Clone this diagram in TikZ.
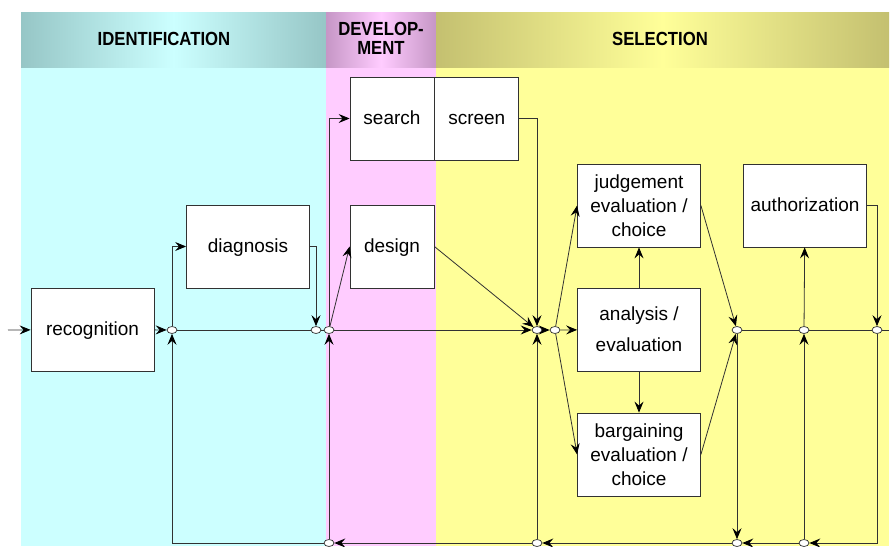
\documentclass[tikz,border=0pt]{standalone}
\usepackage{fontspec}
\setmainfont{Liberation Sans}
\newfontfamily\hdrfont[FakeStretch=0.88]{Liberation Sans}
\usetikzlibrary{arrows.meta,positioning,shapes.geometric}

\definecolor{idbg}{RGB}{204,255,255}
\definecolor{devbg}{RGB}{255,204,255}
\definecolor{selbg}{RGB}{255,255,153}
\definecolor{idhd}{RGB}{150,198,198}
\definecolor{devhd}{RGB}{198,150,198}
\definecolor{selhd}{RGB}{196,192,112}
\definecolor{ln}{RGB}{50,50,50}

\begin{document}
\begin{tikzpicture}[x=1pt, y=-1pt, line width=0.8pt,
	every node/.style={font=\fontsize{19}{24}\selectfont},
	b/.style={draw=ln, fill=white, minimum width=123pt, minimum height=83pt, align=center, inner sep=0pt},
	sb/.style={b, text height=15pt, text depth=4pt},
	nb/.style={sb, minimum width=84pt},
	j/.style={draw=ln, fill=white, ellipse, minimum width=10pt, minimum height=7pt, inner sep=0pt, line width=0.7pt},
	l/.style={draw=ln},
	a/.style={draw=ln, -{Stealth[length=11pt,width=9pt,inset=4pt,color=black]}},
	h/.style={font=\hdrfont\bfseries\fontsize{19}{19}\selectfont, align=center}]
	\useasboundingbox (0,0) rectangle (891,546);
	% phases
	\fill[idbg] (21,67) rectangle (326,546);
	\fill[devbg] (326,67) rectangle (436,546);
	\fill[selbg] (436,67) rectangle (889,546);
	\shade[left color=idhd, right color=idhd, middle color=idbg] (21,12) rectangle (326,67);
	\shade[left color=devhd, right color=devhd, middle color=devbg] (326,12) rectangle (436,67);
	\shade[left color=selhd, right color=selhd, middle color=selbg] (436,12) rectangle (889,67);
	\node[h] (idt) at (164,39) {IDENTIFICATION};
	\node[h] (dvt) at (381,38) {DEVELOP-\\MENT};
	\node[h] (slt) at (660,39) {SELECTION};
	% routines
	\node[sb] (rec) at (92.5,329.5) {recognition};
	\node[sb] (diag) at (248,246.5) {diagnosis};
	\node[nb] (srch) at (392,118.5) {search};
	\node[nb, right=0pt of srch] (scrn) {screen};
	\node[nb] (dsgn) at (392,246.5) {design};
	\node[b] (judg) at (639,205.5) {judgement\\evaluation /\\choice};
	\node[b] (anly) at (639,329.5) {analysis /\\[7pt]evaluation};
	\node[b] (barg) at (639,454.5) {bargaining\\evaluation /\\choice};
	\node[sb] (auth) at (805,205.5) {authorization};
	% junctions
	\foreach \n/\x in {j1/172, j2/316, j3/329, j4/537, j5/555, j6/737, j7/804, j8/877}
		\node[j] (\n) at (\x,330) {};
	\foreach \n/\x in {b3/329, b4/537, b6/737, b7/804}
		\node[j] (\n) at (\x,543) {};
	\coordinate (in) at (8,330);
	\coordinate (out) at (889,330);
	% main flow
	\draw[a] (in) -- (rec);
	\draw[a] (rec) -- (j1);
	\draw[a] (j1) |- (diag.west);
	\draw[l] (j1) -- (j2);
	\draw[a] (diag.east) -| (j2);
	\draw[l] (j2) -- (j3);
	\draw[a] (j3) |- (srch.west);
	\draw[a] (j3) -- (dsgn.west);
	\draw[a] (j3) -- (j4);
	\draw[a] (scrn.east) -| (j4);
	\draw[a] (dsgn.east) -- (j4);
	\draw[a] (j4) -- (j5);
	\draw[a] (j5) -- (anly);
	\draw[a] (j5) -- (judg.west);
	\draw[a] (j5) -- (barg.west);
	\draw[a] (anly) -- (judg);
	\draw[a] (anly) -- (barg);
	\draw[a] (judg.east) -- (j6);
	\draw[a] (barg.east) -- (j6);
	\draw[l] (j6) -- (j7);
	\draw[l] (j7) -- (j8);
	\draw[l] (j8) -- (out);
	\draw[a] (j7) -- (auth);
	\draw[a] (auth.east) -| (j8);
	% recycling
	\draw[a] (j8) |- (b7);
	\draw[a] (b7) -- (b6);
	\draw[a] (b6) -- (b4);
	\draw[a] (b4) -- (b3);
	\draw[a] (b3) -| (j1);
	\draw[a] (b3) -- (j3);
	\draw[a] (b4) -- (j4);
	\draw[a] (j6) -- (b6);
	\draw[a] (b7) -- (j7);
\end{tikzpicture}
\end{document}
